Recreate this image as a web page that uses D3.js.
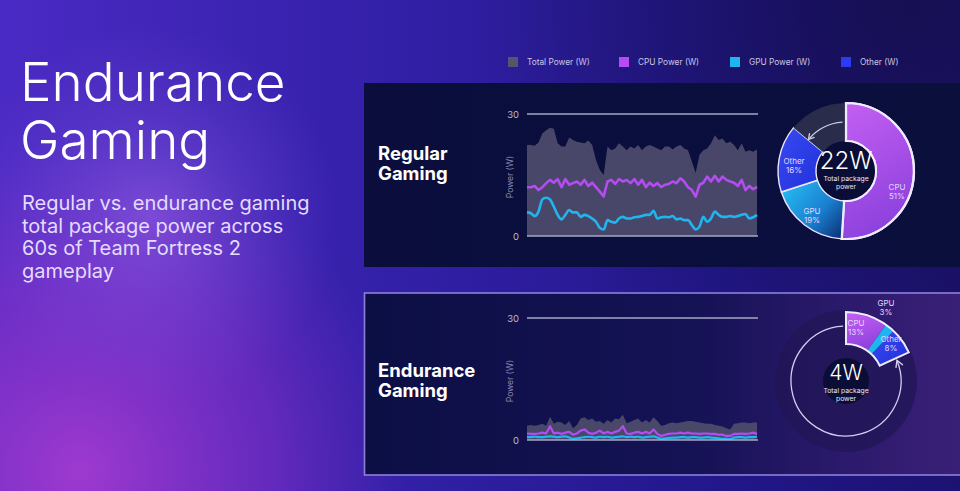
<!DOCTYPE html>
<html><head><meta charset="utf-8">
<script src="https://cdn.jsdelivr.net/npm/d3@7"></script>
<style>html,body{margin:0;padding:0;background:#2a1a8a;overflow:hidden}svg{display:block}text{font-family:Inter,"Noto Sans",sans-serif}</style>
</head><body>
<svg id="c" width="960" height="491"></svg>
<script>
// ---------- DATA ----------
const seconds = d3.range(0, 61);
const legendLabels = ["Total Power (W)", "CPU Power (W)", "GPU Power (W)", "Other (W)"];
const yTicks = [0, 30];
const regTotal = [22.4,22.4,22.2,23.0,25.2,26.0,26.6,26.4,22.8,22.0,22.0,24.2,23.6,23.2,23.0,22.8,23.5,22.4,18.7,16.2,15.0,22.0,21.1,21.5,22.8,22.0,21.1,22.0,21.5,22.4,21.1,22.0,22.4,22.0,21.5,21.1,22.0,22.0,21.3,22.0,22.4,21.5,21.1,18.3,15.5,20.0,21.1,21.5,22.8,24.8,23.6,24.0,22.8,23.2,22.4,21.1,22.8,20.7,21.1,20.7,21.3];
const regCPU = [12.0,12.0,12.3,11.3,12.0,13.0,13.8,13.1,14.0,12.0,14.0,12.6,13.0,13.4,12.6,13.8,12.3,13.1,12.0,10.9,9.7,13.4,13.8,12.8,14.0,13.4,13.8,13.0,14.0,12.6,13.8,12.0,13.1,12.3,13.0,12.0,12.6,12.8,13.4,13.0,14.2,13.4,12.0,11.3,9.7,12.6,13.1,14.6,13.4,14.8,13.4,14.6,13.8,13.4,13.1,12.3,13.8,11.3,12.3,11.5,12.1];
const regGPU = [5.8,5.6,4.9,6.0,9.0,9.4,9.0,7.2,5.2,4.1,5.2,6.4,5.8,5.8,4.7,5.2,4.9,4.3,3.5,2.0,1.6,3.9,3.5,3.3,4.3,4.7,4.3,4.3,4.6,4.7,4.9,5.2,5.2,6.2,4.3,4.6,4.7,4.6,4.9,4.1,4.3,3.9,3.9,2.7,1.6,2.3,4.7,3.5,4.3,6.0,5.2,4.7,4.7,4.9,4.7,4.9,5.2,5.4,4.3,4.6,5.2];
const endTotal = [3.5,3.7,3.5,3.7,4.0,3.5,5.7,4.0,4.5,4.3,3.7,4.7,2.9,3.7,5.3,5.6,4.9,5.3,4.5,4.7,4.0,4.9,4.3,5.3,5.1,6.2,4.1,4.5,4.9,5.3,4.3,4.9,4.3,5.6,4.7,3.5,3.7,4.1,4.3,4.1,4.3,4.5,4.7,4.7,4.5,4.3,4.1,4.0,4.0,3.7,3.5,3.3,2.9,2.6,4.0,4.1,4.3,4.3,4.1,4.3,4.3];
const endCPU = [1.6,1.5,1.5,1.6,1.8,1.6,3.4,1.6,1.8,1.5,1.8,2.0,1.3,1.6,2.3,2.6,1.8,1.5,1.8,2.3,1.6,2.0,1.6,2.0,2.3,3.4,1.6,1.5,1.8,2.0,1.6,2.0,1.6,2.6,1.5,1.0,1.3,1.5,1.6,1.6,1.8,1.6,1.8,1.6,1.6,1.5,1.6,1.6,1.5,1.5,1.3,1.3,1.0,1.0,1.5,1.5,1.6,1.5,1.6,1.8,1.5];
const endGPU = [0.7,0.7,0.8,0.7,0.7,0.8,0.9,0.8,0.7,0.8,0.9,0.6,0.3,0.4,0.6,0.7,0.8,0.7,0.6,0.8,0.7,0.8,0.6,0.7,0.8,0.9,0.7,0.8,0.7,0.8,0.6,0.7,0.8,0.9,0.6,0.3,0.4,0.5,0.6,0.6,0.7,0.7,0.6,0.7,0.7,0.6,0.6,0.7,0.6,0.5,0.4,0.3,0.3,0.2,0.6,0.7,0.7,0.6,0.7,0.7,0.8];
const shareLabels = ["CPU", "GPU", "Other"];
const regShares = [51, 19, 16];
const endShares = [13, 3, 8];
const regWatts = 22, endWatts = 4;
const titleLines = ["Endurance", "Gaming"];
const subtitleLines = ["Regular vs. endurance gaming", "total package power across", "60s of Team Fortress 2", "gameplay"];
const panelTitles = [["Regular", "Gaming"], ["Endurance", "Gaming"]];

// ---------- STYLE ----------
const colTotal = "#4c4b6c", colCPU = "#b54cf2", colGPU = "#1fb6f0", colOther = "#2b3cf0";
const svg = d3.select("#c");
const defs = svg.append("defs");

function lin(id, x1, y1, x2, y2, stops) {
  const g = defs.append("linearGradient").attr("id", id)
    .attr("x1", x1).attr("y1", y1).attr("x2", x2).attr("y2", y2);
  stops.forEach(s => g.append("stop").attr("offset", s[0]).attr("stop-color", s[1]).attr("stop-opacity", s[2] == null ? 1 : s[2]));
}
function rad(id, cx, cy, r, stops) {
  const g = defs.append("radialGradient").attr("id", id).attr("gradientUnits", "userSpaceOnUse")
    .attr("cx", cx).attr("cy", cy).attr("r", r);
  stops.forEach(s => g.append("stop").attr("offset", s[0]).attr("stop-color", s[1]).attr("stop-opacity", s[2] == null ? 1 : s[2]));
}
lin("bg", "0", "0", "1", "0", [[0, "#4a2ac4"], [0.4, "#3320a8"], [0.75, "#22178a"], [1, "#1c1270"]]);
rad("glow1", 80, 470, 330, [[0, "#a33ad0", 0.95], [0.6, "#8a30c8", 0.5], [1, "#7a2cc0", 0]]);
rad("glow2", 150, 215, 190, [[0, "#a66cf0", 0.5], [1, "#8050e0", 0]]);
rad("glow3", 900, 0, 420, [[0, "#140e4a", 0.8], [1, "#140e4a", 0]]);
lin("p1", "0", "0", "1", "0", [[0, "#0b0e3c"], [1, "#0a0f3c"]]);
lin("p2", "0", "0", "1", "0", [[0, "#0c0f44"], [0.55, "#151255"], [0.8, "#2c1a6c"], [1, "#3a2078"]]);
lin("gCPU", "0.2", "0", "0.5", "1", [[0, "#c25ef2"], [1, "#8a40dc"]]);
lin("gGPU", "0", "0.2", "1", "1", [[0, "#25b8f0"], [0.55, "#1a7fd0"], [1, "#0c2a6e"]]);
lin("gOther", "0", "0", "1", "1", [[0, "#3a4af2"], [1, "#2030d8"]]);

svg.append("rect").attr("width", 960).attr("height", 491).attr("fill", "url(#bg)");
svg.append("rect").attr("width", 960).attr("height", 491).attr("fill", "url(#glow1)");
svg.append("rect").attr("width", 960).attr("height", 491).attr("fill", "url(#glow2)");
svg.append("rect").attr("width", 960).attr("height", 491).attr("fill", "url(#glow3)");

// ---------- LEFT TEXT ----------
svg.append("g").selectAll("text").data(titleLines).join("text")
  .attr("x", 20).attr("y", (d, i) => 101 + i * 58)
  .attr("fill", "#ffffff").attr("font-size", 53).attr("font-weight", 300)
  .text(d => d);
svg.append("g").selectAll("text").data(subtitleLines).join("text")
  .attr("x", 22).attr("y", (d, i) => 210 + i * 22.5)
  .attr("fill", "#e4dcff").attr("font-size", 20).attr("font-weight", 400)
  .text(d => d);

// ---------- PANELS ----------
svg.append("rect").attr("x", 364).attr("y", 83).attr("width", 600).attr("height", 184).attr("fill", "url(#p1)");
svg.append("rect").attr("x", 364.5).attr("y", 293).attr("width", 600).attr("height", 182).attr("fill", "url(#p2)")
  .attr("stroke", "#8c80dc").attr("stroke-width", 1.6);

panelTitles.forEach((lines, p) => {
  svg.append("g").selectAll("text").data(lines).join("text")
    .attr("x", 378).attr("y", (d, i) => (p === 0 ? 160 : 377) + i * 20)
    .attr("fill", "#ffffff").attr("font-size", 18.5).attr("font-weight", 700)
    .text(d => d);
});

// ---------- LEGEND ----------
const legCols = [colTotal, colCPU, colGPU, colOther];
const legX = d3.scalePoint().domain(legendLabels).range([508, 841]);
const leg = svg.append("g").selectAll("g").data(legendLabels).join("g")
  .attr("transform", d => `translate(${legX(d)},57)`);
leg.append("rect").attr("width", 10).attr("height", 10).attr("fill", (d, i) => i === 0 ? "#55566a" : legCols[i]);
leg.append("text").attr("x", 19).attr("y", 8.2).attr("fill", "#c9c6e4").attr("font-size", 8.3)
  .text(d => d);

// ---------- LINE CHARTS ----------
const x = d3.scaleLinear().domain([0, 60]).range([527, 757]);
function chart(y0, y30, total, cpu, gpu, lw) {
  const y = d3.scaleLinear().domain([0, 30]).range([y0, y30]);
  const g = svg.append("g");
  const area = d3.area().x((d, i) => x(seconds[i])).y0(y(0)).y1(d => y(d)).curve(d3.curveLinear);
  g.append("path").datum(total).attr("d", area).attr("fill", colTotal).attr("opacity", 0.95);
  const lineJag = d3.line().x((d, i) => x(seconds[i])).y(d => y(d)).curve(d3.curveLinear);
  const lineSmooth = d3.line().x((d, i) => x(seconds[i])).y(d => y(d)).curve(d3.curveMonotoneX);
  g.append("path").datum(cpu).attr("d", lineJag).attr("fill", "none").attr("stroke", colCPU).attr("stroke-width", lw).attr("stroke-linejoin", "round");
  g.append("path").datum(gpu).attr("d", lineSmooth).attr("fill", "none").attr("stroke", colGPU).attr("stroke-width", lw).attr("stroke-linejoin", "round");
  g.append("g").selectAll("line").data(yTicks).join("line")
    .attr("x1", 527).attr("x2", 758).attr("y1", d => y(d)).attr("y2", d => y(d))
    .attr("stroke", "#a7a6c6").attr("stroke-width", 1.4);
  const ax = g.append("g").attr("transform", "translate(519,0)")
    .call(d3.axisLeft(y).tickValues(yTicks).tickSize(0).tickPadding(0));
  ax.select(".domain").remove();
  ax.selectAll("text").attr("fill", "#b9b8d2").attr("font-size", 9.5).attr("font-family", "Inter, sans-serif");
  g.append("text").attr("transform", `translate(513,${(y0 + y30) / 2 + 2}) rotate(-90)`)
    .attr("text-anchor", "middle").attr("fill", "#8a89b2").attr("font-size", 8.5).text("Power (W)");
}
chart(236, 114, regTotal, regCPU, regGPU, 2.6);
chart(440, 318, endTotal, endCPU, endGPU, 2.2);

// arrow head at the end of an arc, moving counter-clockwise at angle a (radians, clockwise from north)
function arrowHead(g, r, a, len, col) {
  const tx = r * Math.sin(a), ty = -r * Math.cos(a);
  const dx = -Math.cos(a), dy = -Math.sin(a); // direction of travel
  const bx = -dx, by = -dy, s = Math.PI / 6;
  const w1 = [tx + len * (bx * Math.cos(s) - by * Math.sin(s)), ty + len * (bx * Math.sin(s) + by * Math.cos(s))];
  const w2 = [tx + len * (bx * Math.cos(-s) - by * Math.sin(-s)), ty + len * (bx * Math.sin(-s) + by * Math.cos(-s))];
  g.append("path").attr("d", `M${w1[0]},${w1[1]} L${tx},${ty} L${w2[0]},${w2[1]}`)
    .attr("fill", "none").attr("stroke", col).attr("stroke-width", 1.4).attr("stroke-linecap", "round");
}

// ---------- DONUT 1 ----------
(function () {
  const cx = 846, cy = 171, rIn = 30, rOut = 68;
  const g = svg.append("g").attr("transform", `translate(${cx},${cy})`);
  const rest = 100 - d3.sum(regShares);
  const pie = d3.pie().sort(null).value(d => d.v);
  const data = pie(shareLabels.map((k, i) => ({ k, v: regShares[i] })).concat([{ k: "rest", v: rest }]));
  const arc = d3.arc().innerRadius(rIn).outerRadius(rOut);
  const fills = { CPU: "url(#gCPU)", GPU: "url(#gGPU)", Other: "url(#gOther)", rest: "#2a2c4c" };
  g.selectAll("path.s").data(data).join("path").attr("class", "s")
    .attr("d", arc).attr("fill", d => fills[d.data.k])
    .attr("stroke", d => d.data.k === "rest" ? "none" : "#ece6ff")
    .attr("stroke-width", d => d.data.k === "CPU" ? 2.2 : 1.4);
  g.append("path").datum(data[0]).attr("d", arc).attr("fill", "none").attr("stroke", "#f0eaff").attr("stroke-width", 2.2);
  const a0 = -4 * Math.PI / 180, a1 = -50 * Math.PI / 180, ra = 49;
  g.append("path").attr("d", d3.arc().innerRadius(ra).outerRadius(ra).startAngle(a1).endAngle(a0)())
    .attr("fill", "none").attr("stroke", "#c9c8dc").attr("stroke-width", 1.4);
  arrowHead(g, ra, a1, 6, "#c9c8dc");
  g.append("circle").attr("r", rIn - 1).attr("fill", "#0a0d36");
  g.append("text").attr("y", -2).attr("text-anchor", "middle").attr("fill", "#fff").attr("font-size", 24).attr("font-weight", 300).text(regWatts + "W");
  g.append("text").attr("y", 10).attr("text-anchor", "middle").attr("fill", "#e8e6f4").attr("font-size", 6.8).text("Total package");
  g.append("text").attr("y", 18).attr("text-anchor", "middle").attr("fill", "#e8e6f4").attr("font-size", 6.8).text("power");
  const labelPos = { CPU: [51, 19], GPU: [-34, 43], Other: [-52, -7] };
  data.slice(0, 3).forEach((d, i) => {
    const p = labelPos[d.data.k];
    const t = g.append("text").attr("text-anchor", "middle").attr("fill", "#e2d6ff").attr("font-size", 8);
    t.append("tspan").attr("x", p[0]).attr("y", p[1]).text(d.data.k);
    t.append("tspan").attr("x", p[0]).attr("y", p[1] + 9).text(regShares[i] + "%");
  });
})();

// ---------- DONUT 2 ----------
(function () {
  const cx = 846, cy = 381, rIn = 37, rOut = 69;
  const g = svg.append("g").attr("transform", `translate(${cx},${cy})`);
  g.append("circle").attr("r", 71).attr("fill", "#221656").attr("opacity", 0.75);
  const sA = 68 * Math.PI / 180, eA = 357 * Math.PI / 180, rr = 55;
  g.append("path").attr("d", d3.arc().innerRadius(rr).outerRadius(rr).startAngle(sA).endAngle(eA)())
    .attr("fill", "none").attr("stroke", "#d4cdf0").attr("stroke-width", 1.3);
  arrowHead(g, rr, sA, 7, "#d4cdf0");
  const span = 2 * Math.PI * endWatts / regWatts;
  const pie = d3.pie().sort(null).value(d => d.v).startAngle(0).endAngle(span);
  const data = pie(shareLabels.map((k, i) => ({ k, v: endShares[i] })));
  const arc = d3.arc().innerRadius(rIn).outerRadius(rOut);
  const fills = { CPU: "url(#gCPU)", GPU: colGPU, Other: "url(#gOther)" };
  g.selectAll("path.s").data(data).join("path").attr("class", "s")
    .attr("d", arc).attr("fill", d => fills[d.data.k]);
  g.append("path").attr("d", d3.arc().innerRadius(rIn).outerRadius(rOut).startAngle(0).endAngle(span)())
    .attr("fill", "none").attr("stroke", "#f0eaff").attr("stroke-width", 2);
  g.append("circle").attr("r", 23).attr("fill", "#0a0d36");
  g.append("text").attr("y", -1).attr("text-anchor", "middle").attr("fill", "#fff").attr("font-size", 21).attr("font-weight", 300).text(endWatts + "W");
  g.append("text").attr("y", 12).attr("text-anchor", "middle").attr("fill", "#e8e6f4").attr("font-size", 6.8).text("Total package");
  g.append("text").attr("y", 20).attr("text-anchor", "middle").attr("fill", "#e8e6f4").attr("font-size", 6.8).text("power");
  const labelPos = { CPU: [10, -55], GPU: [40, -75], Other: [45, -39] };
  data.forEach((d, i) => {
    const p = labelPos[d.data.k];
    const t = g.append("text").attr("text-anchor", "middle").attr("fill", "#e2d6ff").attr("font-size", 8);
    t.append("tspan").attr("x", p[0]).attr("y", p[1]).text(d.data.k);
    t.append("tspan").attr("x", p[0]).attr("y", p[1] + 9).text(endShares[i] + "%");
  });
})();
</script>
</body></html>
